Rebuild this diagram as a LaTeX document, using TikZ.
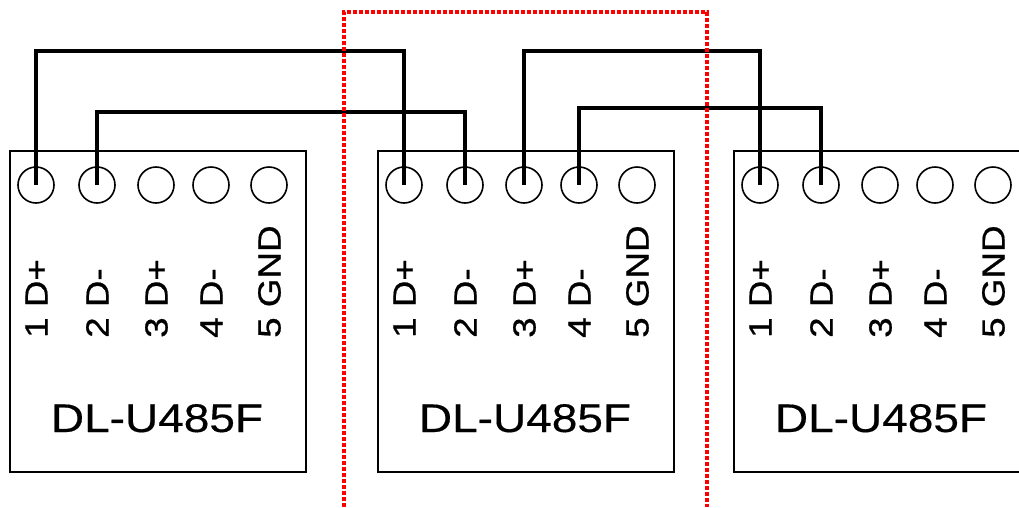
\documentclass[tikz,border=0pt]{standalone}
\usepackage{fontspec}
\setmainfont{Liberation Sans}
\newfontfamily\lblfont[FakeStretch=1.15,FakeBold=0.6]{Liberation Sans}
\newfontfamily\ttlfont[FakeStretch=1.15,FakeBold=0.4]{Liberation Sans}
\begin{document}
\begin{tikzpicture}[x=1pt,y=-1pt,
  box/.style={draw=black, line width=1.6pt, minimum width=296pt, minimum height=321pt, inner sep=0pt, anchor=north west},
  pin/.style={draw=black, circle, line width=1.6pt, minimum size=36pt, inner sep=0pt},
  lbl/.style={rotate=90, anchor=base west, inner sep=0pt, font=\lblfont\fontsize{32}{38}\selectfont},
  ttl/.style={anchor=base, inner sep=0pt, font=\ttlfont\fontsize{40}{48}\selectfont},
  wire/.style={draw=black, line width=3.4pt},
  redframe/.style={draw=red, line width=3.6pt, dash pattern=on 4pt off 2pt}]
\useasboundingbox (0,0) rectangle (1019,507);
\clip (0,0) rectangle (1019,507);
\foreach \b/\L in {1/9, 2/377, 3/733} {
  \node[box] (m\b) at (\L,150) {};
  \node[ttl] (t\b) at (\L+148,432) {DL-U485F};
  \foreach \i/\o/\txt in {1/27/1 D+, 2/88/2 D-, 3/147/3 D+, 4/202/4 D-, 5/260/5 GND} {
    \node[pin] (m\b p\i) at (\L+\o,185) {};
    \node[lbl] (l\b\i) at (\L+\o+11.5,338) {\txt};
  }
}
\coordinate (hA) at (0,51);
\coordinate (hB) at (0,112);
\coordinate (hD) at (0,108);
\draw[wire] (m1p1.center) |- (hA -| m2p1.center) -- (m2p1.center);
\draw[wire] (m1p2.center) |- (hB -| m2p2.center) -- (m2p2.center);
\draw[wire] (m2p3.center) |- (hA -| m3p1.center) -- (m3p1.center);
\draw[wire] (m2p4.center) |- (hD -| m3p2.center) -- (m3p2.center);
\coordinate (r1) at (344,507);
\coordinate (r2) at (344,12);
\coordinate (r3) at (707,12);
\coordinate (r4) at (707,507);
\draw[redframe] (r1) -- (r2) -- (r3) -- (r4);
\end{tikzpicture}
\end{document}
